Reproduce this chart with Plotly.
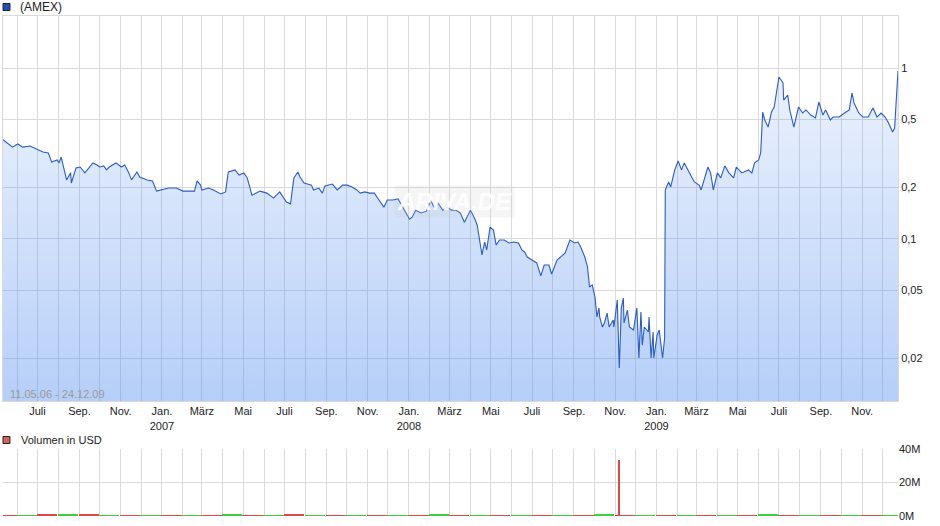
import plotly.graph_objects as go
import pandas as pd
import math

# ---------------- data ----------------
dates = [
    "2006-05-11", "2006-05-17", "2006-05-25", "2006-06-02", "2006-06-09", "2006-06-20",
    "2006-07-01", "2006-07-09", "2006-07-17", "2006-07-22", "2006-07-30", "2006-08-02",
    "2006-08-05", "2006-08-08", "2006-08-13", "2006-08-19", "2006-08-20", "2006-08-27",
    "2006-09-02", "2006-09-09", "2006-09-15", "2006-09-21", "2006-09-27", "2006-10-01",
    "2006-10-07", "2006-10-11", "2006-10-15", "2006-10-25", "2006-11-02", "2006-11-07",
    "2006-11-13", "2006-11-17", "2006-11-25", "2006-11-29", "2006-12-10", "2006-12-18",
    "2006-12-24", "2007-01-02", "2007-01-11", "2007-01-22", "2007-02-01", "2007-02-18",
    "2007-02-22", "2007-02-27", "2007-03-01", "2007-03-11", "2007-03-18", "2007-03-29",
    "2007-04-05", "2007-04-09", "2007-04-19", "2007-04-25", "2007-05-02", "2007-05-07",
    "2007-05-14", "2007-05-26", "2007-06-05", "2007-06-15", "2007-06-24", "2007-07-04",
    "2007-07-10", "2007-07-15", "2007-07-21", "2007-07-24", "2007-07-30", "2007-08-04",
    "2007-08-10", "2007-08-13", "2007-08-21", "2007-08-26", "2007-08-30", "2007-09-10",
    "2007-09-17", "2007-09-25", "2007-10-02", "2007-10-09", "2007-10-16", "2007-10-21",
    "2007-10-28", "2007-11-04", "2007-11-11", "2007-11-15", "2007-11-21", "2007-11-25",
    "2007-11-30", "2007-12-08", "2007-12-16", "2007-12-23", "2008-01-02", "2008-01-06",
    "2008-01-11", "2008-01-19", "2008-01-27", "2008-02-02", "2008-02-08", "2008-02-13",
    "2008-02-20", "2008-02-27", "2008-03-04", "2008-03-10", "2008-03-17", "2008-03-23",
    "2008-03-27", "2008-04-01", "2008-04-07", "2008-04-11", "2008-04-18", "2008-04-22",
    "2008-04-25", "2008-04-30", "2008-05-05", "2008-05-09", "2008-05-14", "2008-05-21",
    "2008-05-28", "2008-06-04", "2008-06-11", "2008-06-16", "2008-06-20", "2008-06-24",
    "2008-07-01", "2008-07-08", "2008-07-14", "2008-07-19", "2008-07-26", "2008-07-30",
    "2008-08-07", "2008-08-12", "2008-08-19", "2008-08-26", "2008-09-02", "2008-09-07",
    "2008-09-11", "2008-09-17", "2008-09-21", "2008-09-24", "2008-09-28", "2008-10-02",
    "2008-10-05", "2008-10-08", "2008-10-09", "2008-10-13", "2008-10-16", "2008-10-20",
    "2008-10-23", "2008-10-29", "2008-10-30", "2008-11-04", "2008-11-07", "2008-11-10",
    "2008-11-13", "2008-11-14", "2008-11-19", "2008-11-22", "2008-11-28", "2008-12-03",
    "2008-12-06", "2008-12-09", "2008-12-11", "2008-12-14", "2008-12-20", "2008-12-21",
    "2008-12-24", "2008-12-27", "2008-12-28", "2009-01-02", "2009-01-05", "2009-01-10",
    "2009-01-13", "2009-01-14", "2009-01-19", "2009-01-22", "2009-01-28", "2009-02-02",
    "2009-02-07", "2009-02-11", "2009-02-17", "2009-02-22", "2009-02-26", "2009-03-05",
    "2009-03-08", "2009-03-12", "2009-03-18", "2009-03-22", "2009-03-26", "2009-04-01",
    "2009-04-06", "2009-04-12", "2009-04-18", "2009-04-25", "2009-04-29", "2009-05-07",
    "2009-05-17", "2009-05-22", "2009-05-26", "2009-06-01", "2009-06-04", "2009-06-07",
    "2009-06-10", "2009-06-15", "2009-06-20", "2009-06-24", "2009-06-28", "2009-07-01",
    "2009-07-07", "2009-07-08", "2009-07-14", "2009-07-17", "2009-07-23", "2009-07-30",
    "2009-08-05", "2009-08-10", "2009-08-17", "2009-08-24", "2009-08-29", "2009-09-04",
    "2009-09-08", "2009-09-15", "2009-09-19", "2009-09-28", "2009-10-06", "2009-10-13",
    "2009-10-17", "2009-10-20", "2009-10-27", "2009-11-02", "2009-11-10", "2009-11-17",
    "2009-11-23", "2009-11-29", "2009-12-05", "2009-12-10", "2009-12-16", "2009-12-19",
    "2009-12-24",
]

price = [
    0.380, 0.364, 0.344, 0.359, 0.344, 0.349,
    0.331, 0.322, 0.318, 0.281, 0.289, 0.278,
    0.301, 0.270, 0.221, 0.243, 0.212, 0.260,
    0.263, 0.243, 0.260, 0.278, 0.270, 0.263,
    0.267, 0.253, 0.263, 0.278, 0.263, 0.270,
    0.243, 0.221, 0.246, 0.230, 0.221, 0.218,
    0.190, 0.193, 0.198, 0.198, 0.190, 0.190,
    0.218, 0.206, 0.193, 0.198, 0.193, 0.183,
    0.188, 0.246, 0.253, 0.236, 0.243, 0.227,
    0.180, 0.190, 0.185, 0.173, 0.188, 0.164,
    0.160, 0.227, 0.246, 0.230, 0.212, 0.209,
    0.206, 0.193, 0.198, 0.185, 0.204, 0.209,
    0.193, 0.206, 0.206, 0.201, 0.193, 0.185,
    0.188, 0.185, 0.185, 0.175, 0.162, 0.153,
    0.1685, 0.1685, 0.171, 0.153, 0.130, 0.134,
    0.147, 0.1415, 0.145, 0.1685, 0.151, 0.162,
    0.147, 0.153, 0.147, 0.147, 0.1415, 0.125,
    0.134, 0.147, 0.132, 0.120, 0.0803, 0.0956,
    0.0859, 0.117, 0.1125, 0.0918, 0.0983, 0.0983,
    0.0944, 0.0956, 0.0944, 0.0859, 0.0836, 0.0781,
    0.0750, 0.0721, 0.0605, 0.0701, 0.0701, 0.0621,
    0.0750, 0.0781, 0.0825, 0.0983, 0.0944, 0.0956,
    0.0894, 0.0781, 0.0683, 0.0521, 0.0536, 0.0456,
    0.0348, 0.0393, 0.0348, 0.0304, 0.0321, 0.0367,
    0.0304, 0.0334, 0.0304, 0.0437, 0.0175, 0.0393,
    0.0449, 0.0321, 0.0382, 0.0304, 0.0292, 0.0393,
    0.0200, 0.0372, 0.0238, 0.0304, 0.0284, 0.0348,
    0.0200, 0.0284, 0.0200, 0.0273, 0.0292, 0.0200,
    0.0262, 0.193, 0.215, 0.201, 0.253, 0.285,
    0.253, 0.278, 0.253, 0.230, 0.215, 0.206,
    0.193, 0.221, 0.263, 0.243, 0.193, 0.243,
    0.227, 0.267, 0.243, 0.227, 0.263, 0.243,
    0.253, 0.243, 0.278, 0.289, 0.318, 0.552,
    0.496, 0.451, 0.552, 0.591, 0.743, 0.886,
    0.817, 0.649, 0.695, 0.568, 0.451, 0.591,
    0.545, 0.568, 0.530, 0.510, 0.632, 0.530,
    0.568, 0.496, 0.516, 0.516, 0.545, 0.568,
    0.714, 0.624, 0.545, 0.516, 0.516, 0.583,
    0.516, 0.545, 0.516, 0.476, 0.422, 0.445,
    0.960,
]

# volume (million USD): small monthly bars plus the one big spike
vol_dates = [
    "2006-05-20", "2006-06-15", "2006-07-15", "2006-08-15", "2006-09-15", "2006-10-15",
    "2006-11-15", "2006-12-15", "2007-01-15", "2007-02-15", "2007-03-15", "2007-04-15",
    "2007-05-15", "2007-06-15", "2007-07-15", "2007-08-15", "2007-09-15", "2007-10-15",
    "2007-11-15", "2007-12-15", "2008-01-15", "2008-02-15", "2008-03-15", "2008-04-15",
    "2008-05-15", "2008-06-15", "2008-07-15", "2008-08-15", "2008-09-15", "2008-10-15",
    "2008-11-15", "2008-12-15", "2009-01-15", "2009-02-15", "2009-03-15", "2009-04-15",
    "2009-05-15", "2009-06-15", "2009-07-15", "2009-08-15", "2009-09-15", "2009-10-15",
    "2009-11-15", "2009-12-15",
]
vol_mio = [
    0.6, 0.6, 0.7, 0.8, 0.7, 0.6, 0.6, 0.6, 0.6, 0.6, 0.6, 0.7,
    0.6, 0.6, 0.7, 0.6, 0.6, 0.6, 0.6, 0.6, 0.6, 0.7, 0.6, 0.6,
    0.6, 0.6, 0.6, 0.6, 0.6, 0.7, 0.6, 0.6, 0.6, 0.6, 0.6, 0.6,
    0.6, 0.7, 0.6, 0.6, 0.6, 0.6, 0.6, 0.6,
]
vol_up = [
    0, 1, 0, 1, 0, 1, 0, 1, 0, 1, 0, 1, 0, 1, 0, 1, 0, 1, 0, 1, 0, 1,
    0, 1, 0, 1, 0, 1, 0, 1, 0, 1, 0, 1, 0, 1, 0, 1, 0, 1, 0, 1, 0, 1,
]
spike_dates = ["2008-11-07"]
spike_mio = [33.5]

y_ticks = [0.02, 0.05, 0.1, 0.2, 0.5, 1]
y_ticktext = ["0,02", "0,05", "0,1", "0,2", "0,5", "1"]

month_labels = [
    "", "Juli", "", "Sep.", "", "Nov.", "",
    "Jan.<br>2007", "", "März", "", "Mai", "", "Juli", "", "Sep.", "", "Nov.", "",
    "Jan.<br>2008", "", "März", "", "Mai", "", "Juli", "", "Sep.", "", "Nov.", "",
    "Jan.<br>2009", "", "März", "", "Mai", "", "Juli", "", "Sep.", "", "Nov.", "",
]
month_ticks = list(pd.date_range("2006-06-01", "2009-12-01", freq="MS"))

vol_ticks = [0, 20, 40]
vol_ticktext = ["0M", "20M", "40M"]

# ---------------- figure ----------------
FONT = "Liberation Sans, Arial, sans-serif"
GRID = "#dadada"
LINE = "#2a5cc4"

fig = go.Figure()

fig.add_trace(go.Scatter(
    x=dates, y=price, mode="lines",
    line=dict(color=LINE, width=1.1),
    fill="tozeroy",
    fillgradient=dict(
        type="vertical",
        start=0.0112, stop=1.5,
        colorscale=[[0, "rgba(80,140,238,0.42)"], [1, "rgba(80,140,238,0.08)"]],
    ),
    hoverinfo="skip", showlegend=False,
    xaxis="x", yaxis="y",
))

fig.add_trace(go.Bar(
    x=vol_dates, y=vol_mio,
    marker=dict(color=["#3ad03a" if u else "#e04848" for u in vol_up], line=dict(width=0)),
    width=[30 * 86400000] * len(vol_dates),
    hoverinfo="skip", showlegend=False,
    xaxis="x2", yaxis="y2",
))
fig.add_trace(go.Bar(
    x=spike_dates, y=spike_mio,
    marker=dict(color="#e04848", line=dict(width=0)),
    width=[1.6 * 86400000],
    hoverinfo="skip", showlegend=False,
    xaxis="x2", yaxis="y2",
))

xrange = ["2006-05-11", "2009-12-24"]

fig.update_layout(
    width=940, height=526,
    margin=dict(l=3, r=42, t=16, b=10),
    paper_bgcolor="white", plot_bgcolor="white",
    font=dict(family=FONT, size=11, color="#222222"),
    bargap=0,
    xaxis=dict(
        domain=[0, 1], anchor="y", type="date", range=xrange,
        tickmode="array", tickvals=month_ticks, ticktext=month_labels,
        showgrid=True, gridcolor=GRID, gridwidth=1,
        ticks="", showline=True, linecolor=GRID, mirror=True,
        tickfont=dict(family=FONT, size=11, color="#222222"),
        zeroline=False,
    ),
    yaxis=dict(
        domain=[0.23, 1], anchor="x", type="log", side="right",
        range=[math.log10(0.0112), math.log10(2.017)],
        tickmode="array", tickvals=y_ticks, ticktext=y_ticktext,
        showgrid=True, gridcolor=GRID, gridwidth=1,
        ticks="", showline=True, linecolor=GRID, mirror=True,
        tickfont=dict(family=FONT, size=11, color="#222222"),
        zeroline=False,
    ),
    xaxis2=dict(
        domain=[0, 1], anchor="y2", type="date", range=xrange,
        tickmode="array", tickvals=month_ticks, showticklabels=False,
        showgrid=True, gridcolor=GRID, gridwidth=1,
        ticks="", showline=False,
        zeroline=False,
    ),
    yaxis2=dict(
        domain=[0, 0.134], anchor="x2", side="right",
        range=[0, 40],
        tickmode="array", tickvals=vol_ticks, ticktext=vol_ticktext,
        showgrid=True, gridcolor=GRID, gridwidth=1,
        ticks="", showline=False,
        tickfont=dict(family=FONT, size=11, color="#222222"),
        zeroline=False,
    ),
    shapes=[
        dict(type="rect", xref="paper", yref="paper",
             x0=0.0, x1=0.0078, y0=1.011, y1=1.025,
             fillcolor="#1f4fb4", line=dict(color="#222222", width=1)),
        dict(type="rect", xref="paper", yref="paper",
             x0=0.0, x1=0.0078, y0=0.145, y1=0.159,
             fillcolor="#d9605a", line=dict(color="#222222", width=1)),
    ],
    annotations=[
        dict(text="(AMEX)", xref="paper", yref="paper", x=0.0168, y=1.018,
             xanchor="left", yanchor="middle", showarrow=False,
             font=dict(family=FONT, size=12, color="#222222")),
        dict(text="Volumen in USD", xref="paper", yref="paper", x=0.0179, y=0.152,
             xanchor="left", yanchor="middle", showarrow=False,
             font=dict(family=FONT, size=11, color="#222222")),
        dict(text="11.05.06 - 24.12.09", xref="paper", yref="paper", x=0.0056, y=0.244,
             xanchor="left", yanchor="middle", showarrow=False,
             font=dict(family=FONT, size=11, color="#9a9a9a")),
        dict(text="<b><i>ARIVA.DE</i></b>", xref="paper", yref="paper", x=0.505, y=0.63,
             xanchor="center", yanchor="middle", showarrow=False,
             bgcolor="rgba(200,200,200,0.18)", borderpad=2,
             font=dict(family=FONT, size=24, color="rgba(255,255,255,0.9)")),
    ],
)

fig.write_html(
    "out.html",
    config={"displayModeBar": False},
    post_script="document.body.style.margin='0px';document.body.style.overflow='hidden';",
)
